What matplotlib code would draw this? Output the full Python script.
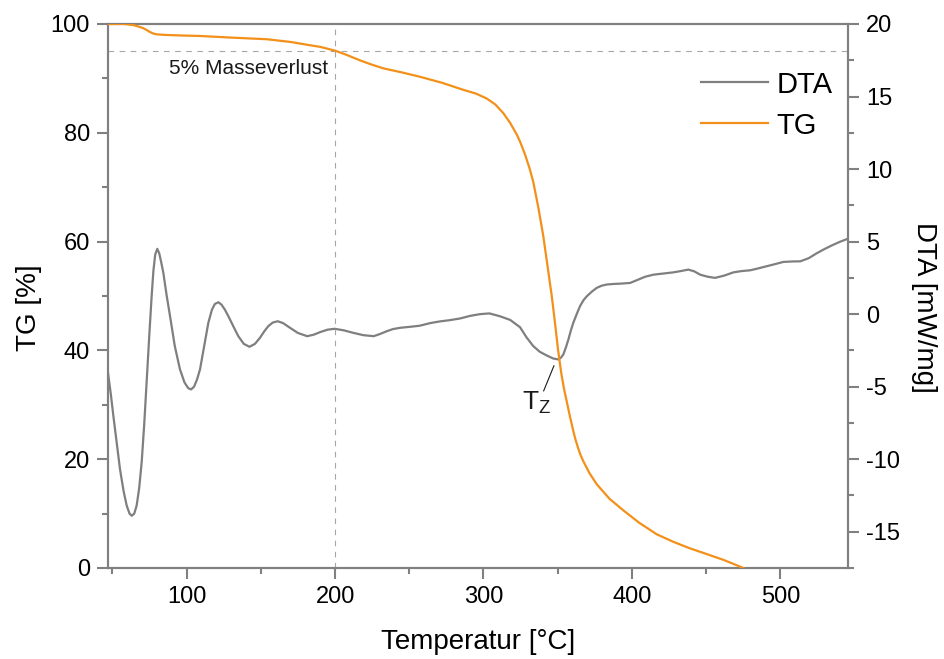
import matplotlib
matplotlib.use("Agg")
import matplotlib.pyplot as plt
from matplotlib.ticker import MultipleLocator

plt.rcParams['font.family'] = ['Liberation Sans', 'DejaVu Sans']
plt.rcParams['axes.unicode_minus'] = False

# ---- data ----
tg_temp = [47, 52, 58, 64, 68, 71, 73, 75.5, 77.5, 79.8, 85, 95, 109, 130, 154, 170,
           183, 189.9, 200, 208, 216, 224, 232.5, 245, 257.2, 272, 286.4, 295, 302.2,
           308, 313.4, 318, 322.4, 324.6, 328, 331, 333.6, 337, 340.3, 343, 346, 348.2,
           350.2, 352.3, 354.2, 356.1, 358.3, 360.5, 362, 363.8, 365.5, 367.3, 371.5,
           376.3, 385, 394.2, 405, 416.7, 428, 439.2, 450, 461.6, 468, 475.1]
tg_vals = [100, 100, 100, 99.8, 99.5, 99.2, 98.9, 98.5, 98.25, 98.1, 98.0, 97.9, 97.8,
           97.5, 97.2, 96.7, 96.1, 95.8, 95.1, 94.3, 93.4, 92.6, 91.85, 91.1, 90.3,
           89.2, 87.9, 87.2, 86.3, 85.2, 83.6, 81.8, 79.7, 78.4, 76.0, 73.5, 70.9,
           66.2, 61.0, 55.8, 50.0, 45.0, 40.2, 36.0, 33.0, 30.6, 27.8, 25.2, 23.6,
           22.0, 20.7, 19.6, 17.4, 15.4, 12.7, 10.6, 8.3, 6.2, 4.8, 3.6, 2.6, 1.5,
           0.8, 0.0]

dta_temp = [47, 49, 50.6, 53, 55.1, 57.5, 59.6, 61.5, 63, 64.7, 66.3, 68, 69.7, 71.4,
            73.1, 74.8, 76.4, 77.6, 78.8, 80.2, 81.5, 82.8, 84.3, 86.5, 88.8, 92, 95.5,
            98.5, 101, 103, 105, 107, 109, 111.8, 114.6, 117, 119, 121.4, 123.5, 125.8,
            128.1, 131.5, 134.8, 138.5, 142.3, 146, 149.4, 152.2, 155, 158, 161.4, 165,
            169.6, 175, 181.2, 185.5, 189.9, 195, 199.8, 206, 212.3, 219, 226, 230,
            234.8, 239, 244, 250, 257, 264, 270.7, 277, 284.2, 291, 297.7, 304, 311.2,
            318, 324.6, 329, 333.5, 338, 342.6, 347, 350.4, 352.2, 353.8, 355.5, 357.2,
            358.8, 360.5, 362.8, 365, 367.3, 369.6, 373, 376.3, 379.6, 383, 387.5, 392,
            398.8, 404.3, 409, 414.5, 421, 428, 433, 438, 442, 446, 451, 456, 462,
            468.4, 474, 479.6, 485, 490.9, 496.5, 502.1, 508, 513.4, 519, 524.6, 530,
            535, 540, 545.6]
dta_vals = [-4.04, -5.6, -7.0, -9.0, -10.7, -12.2, -13.2, -13.75, -13.9, -13.75, -13.2,
            -12.0, -10.2, -7.6, -4.5, -1.5, 1.23, 3.0, 4.1, 4.5, 4.2, 3.6, 2.84, 1.3,
            -0.14, -2.2, -3.81, -4.7, -5.1, -5.19, -5.0, -4.5, -3.81, -2.2, -0.6, 0.3,
            0.7, 0.82, 0.65, 0.3, -0.14, -0.85, -1.52, -2.05, -2.25, -2.05, -1.63, -1.2,
            -0.83, -0.58, -0.49, -0.62, -0.94, -1.3, -1.52, -1.42, -1.24, -1.07, -1.01,
            -1.12, -1.29, -1.45, -1.52, -1.38, -1.18, -1.03, -0.94, -0.88, -0.8, -0.62,
            -0.5, -0.42, -0.3, -0.12, 0.0, 0.05, -0.15, -0.4, -0.9, -1.6, -2.2, -2.6,
            -2.85, -3.06, -3.12, -3.0, -2.78, -2.3, -1.75, -1.15, -0.6, 0.0, 0.54, 0.95,
            1.23, 1.55, 1.81, 1.96, 2.04, 2.08, 2.1, 2.15, 2.38, 2.58, 2.72, 2.8, 2.88,
            2.97, 3.07, 2.95, 2.72, 2.58, 2.5, 2.65, 2.88, 2.97, 3.02, 3.15, 3.3, 3.45,
            3.6, 3.63, 3.64, 3.85, 4.2, 4.5, 4.75, 4.98, 5.2]

mass_loss_level = 95
mass_loss_temp = 200

x_major = [100, 200, 300, 400, 500]
tg_major = [0, 20, 40, 60, 80, 100]
dta_major = [-15, -10, -5, 0, 5, 10, 15, 20]

ORANGE = '#F39019'
GRAY = '#7F7F7F'
AXC = '#808080'

fig = plt.figure(figsize=(9.44, 6.59), dpi=100)
ax = fig.add_axes([108/944, 1-568/659, 740/944, 544/659])
ax2 = ax.twinx()
ax.set_zorder(ax2.get_zorder() + 1)
ax.patch.set_visible(False)

ax.set_xlim(47, 545.6)
ax.set_ylim(0, 100)
ax2.set_ylim(-17.5, 20)

# reference lines
ax.axhline(mass_loss_level, color='#A6A6A6', lw=0.8, ls=(0, (5, 5)), zorder=1)
ax.axvline(mass_loss_temp, color='#A6A6A6', lw=0.8, ls=(0, (5, 5)), zorder=1)
ax.text(195, 93.6, '5% Masseverlust', ha='right', va='top', fontsize=15, color='#1a1a1a')

l_dta, = ax2.plot(dta_temp, dta_vals, color=GRAY, lw=1.6, label='DTA')
l_tg, = ax.plot(tg_temp, tg_vals, color=ORANGE, lw=1.6, label='TG', zorder=3)

# T_Z annotation
ax2.annotate('', xy=(347.5, -3.55), xytext=(340.5, -5.3),
             arrowprops=dict(arrowstyle='-', color='#1a1a1a', lw=0.8, shrinkA=0, shrinkB=0))
ax2.text(335.5, -6.15, r'$\mathregular{T_Z}$', ha='center', va='center', fontsize=19, color='#1a1a1a')

for a in (ax, ax2):
    for s in a.spines.values():
        s.set_color(AXC)
        s.set_linewidth(1.5)

ax.xaxis.set_major_locator(MultipleLocator(100))
ax.xaxis.set_minor_locator(MultipleLocator(50))
ax.yaxis.set_major_locator(MultipleLocator(20))
ax.yaxis.set_minor_locator(MultipleLocator(10))
ax2.yaxis.set_major_locator(MultipleLocator(5))
ax2.yaxis.set_minor_locator(MultipleLocator(2.5))

ax.tick_params(axis='both', which='major', direction='out', length=8, width=1.5,
               color=AXC, labelsize=17, pad=5)
ax.tick_params(axis='both', which='minor', direction='out', length=4, width=1.5, color=AXC)
ax.tick_params(axis='y', which='both', right=False)
ax.tick_params(axis='x', which='both', top=False)
ax2.tick_params(axis='y', which='major', direction='out', length=8, width=1.5,
                color=AXC, labelsize=17, pad=5)
ax2.tick_params(axis='y', which='minor', direction='out', length=4, width=1.5, color=AXC)

ax.set_xticks(x_major)
ax.set_yticks(tg_major)
ax2.set_yticks(dta_major)

ax.set_xlabel('Temperatur [°C]', fontsize=20, labelpad=15)
ax.set_ylabel('TG [%]', fontsize=20)
ax.yaxis.set_label_coords(-0.0892, 0.479)
ax2.set_ylabel('DTA [mW/mg]', fontsize=20, rotation=270, va='bottom')
ax2.yaxis.set_label_coords(1.0851, 0.479)

leg = ax.legend(handles=[l_dta, l_tg], loc='upper right', bbox_to_anchor=(1.007, 0.952),
                frameon=False, fontsize=21, handlelength=2.3, handletextpad=0.3,
                labelspacing=0.45, borderaxespad=0.3)

fig.savefig('out.png', dpi=100)
